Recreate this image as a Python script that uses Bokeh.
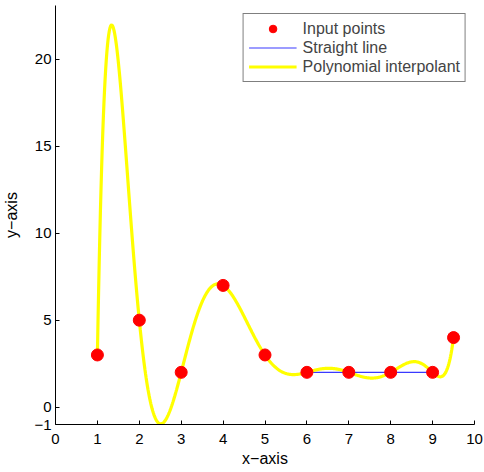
import numpy as np
from bokeh.plotting import figure
from bokeh.models import FixedTicker, Range1d, Legend, LegendItem
from bokeh.embed import file_html
from bokeh.resources import INLINE

# Input data
x_points = [1, 2, 3, 4, 5, 6, 7, 8, 9, 9.5]
y_points = [3, 5, 2, 7, 3, 2, 2, 2, 2, 4]
line_x = [6, 9]
line_y = [2, 2]
x_ticks = [0, 1, 2, 3, 4, 5, 6, 7, 8, 9, 10]
y_ticks = [-1, 0, 5, 10, 15, 20]

# Polynomial interpolant through the input points
coeffs = np.polyfit(x_points, y_points, len(x_points) - 1)
xx = np.linspace(min(x_points), max(x_points), 600)
yy = np.polyval(coeffs, xx)

FONT = "Liberation Sans"

p = figure(width=484, height=472, output_backend="svg", toolbar_location=None,
           x_range=Range1d(0, 10), y_range=Range1d(-1, 23.1),
           min_border_left=55, min_border_right=10, min_border_top=5, min_border_bottom=48)
p.outline_line_color = None
p.grid.visible = False
p.background_fill_color = "white"

r_line = p.line(line_x, line_y, line_color="#3a3aff", line_width=1.2)
r_poly = p.line(xx, yy, line_color="#ffff00", line_width=3.2)
r_pts = p.scatter(x_points, y_points, size=12, fill_color="#ff0000", line_color="#ff0000")

for ax in (p.xaxis[0], p.yaxis[0]):
    ax.major_label_text_font = FONT
    ax.major_label_text_font_size = "15px"
    ax.major_label_text_color = "black"
    ax.axis_label_text_font = FONT
    ax.axis_label_text_font_size = "16px"
    ax.axis_label_text_font_style = "normal"
    ax.axis_label_text_color = "black"
    ax.axis_line_color = "black"
    ax.major_tick_line_color = "black"
    ax.major_tick_in = 4
    ax.major_tick_out = 0
    ax.minor_tick_line_color = None

p.xaxis.ticker = FixedTicker(ticks=x_ticks)
p.yaxis.ticker = FixedTicker(ticks=y_ticks)
p.yaxis.major_label_overrides = {-1: "\u22121"}
p.xaxis.axis_label = "x\u2212axis"
p.yaxis.axis_label = "y\u2212axis"
p.xaxis.axis_label_standoff = 3
p.yaxis.axis_label_standoff = 11
p.xaxis.major_label_standoff = 9
p.yaxis.major_label_standoff = 4

legend = Legend(items=[
    LegendItem(label="Input points", renderers=[r_pts]),
    LegendItem(label="Straight line", renderers=[r_line]),
    LegendItem(label="Polynomial interpolant", renderers=[r_poly]),
], location="top_right")
legend.label_text_font = FONT
legend.label_text_font_size = "16px"
legend.border_line_color = "black"
legend.border_line_width = 1
legend.spacing = 0
legend.padding = 5
legend.margin = 8
legend.glyph_width = 48
legend.glyph_height = 19
legend.label_height = 19
legend.label_standoff = 6
p.add_layout(legend)

open("out.html", "w").write(file_html(p, INLINE))
